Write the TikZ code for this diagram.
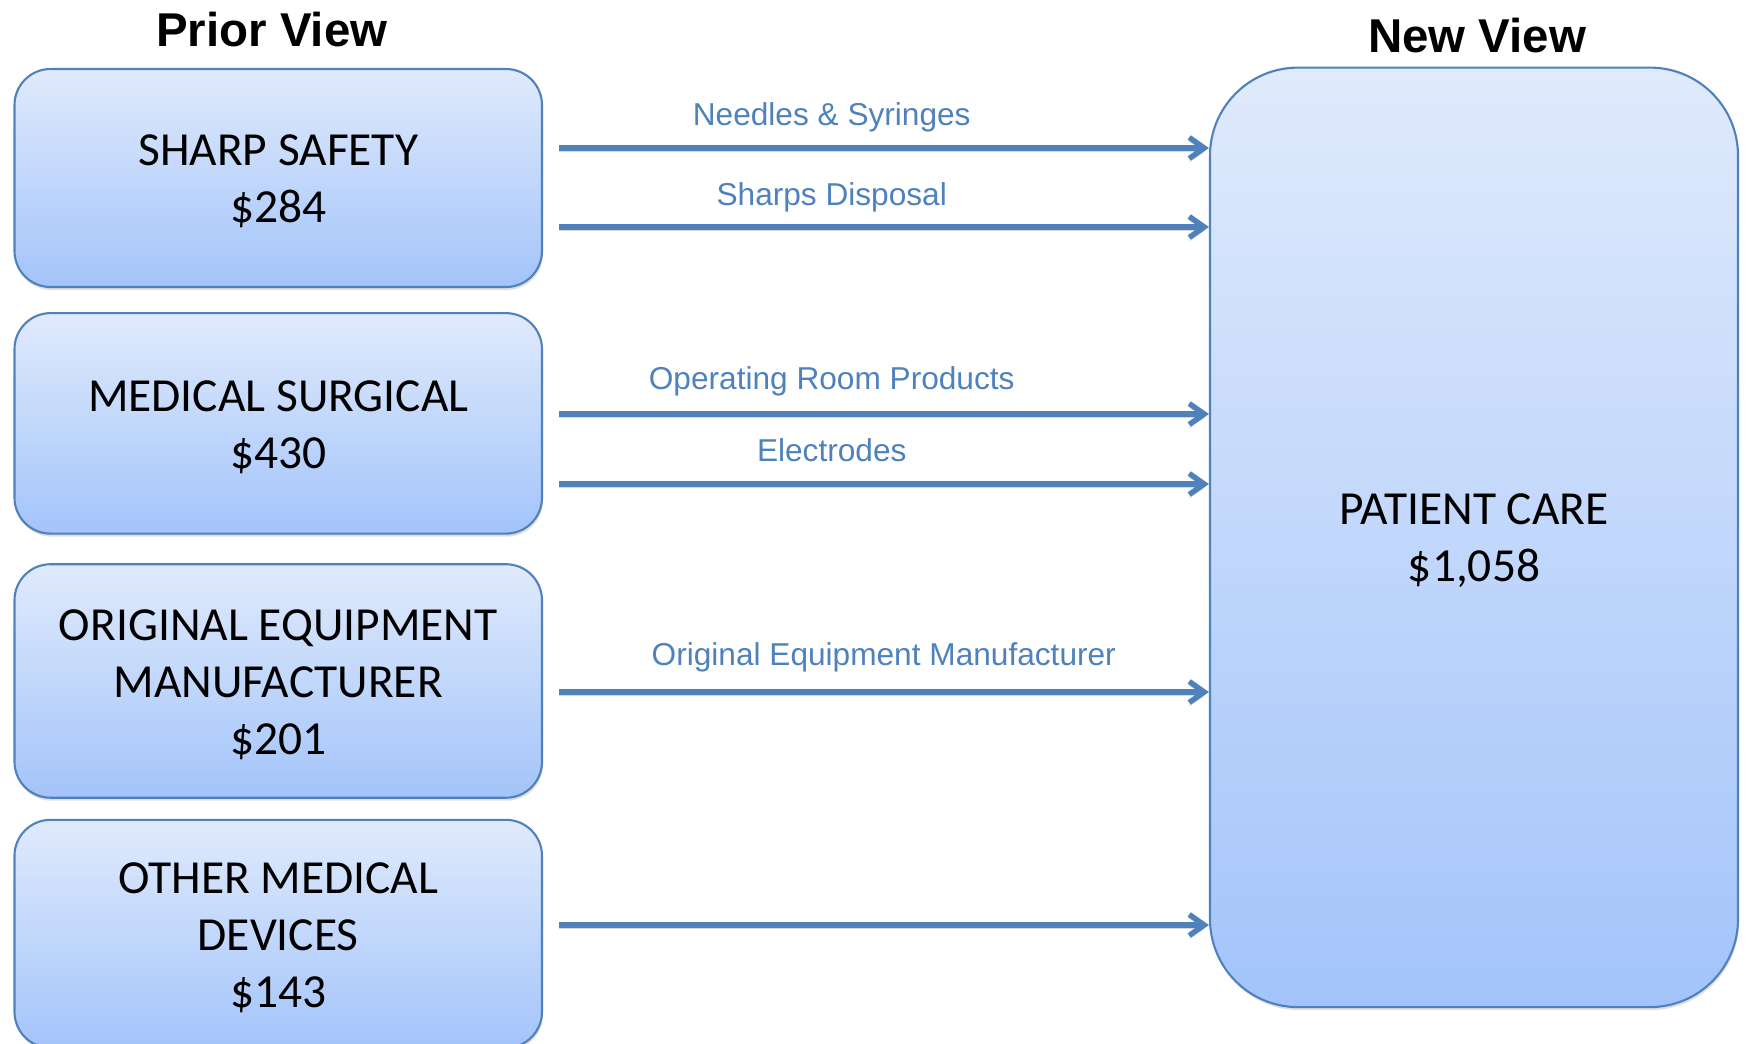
\documentclass[tikz,border=0pt]{standalone}
\usepackage{fontspec}
\setmainfont{Carlito}
\newfontfamily\arialfont{Liberation Sans}
\usetikzlibrary{arrows.meta,calc,positioning,shadows}

\definecolor{edgeblue}{RGB}{79,129,189}
\definecolor{fadetop}{RGB}{224,234,252}
\definecolor{fadebottom}{RGB}{163,196,250}
\newcommand{\padtop}{\rule{0pt}{21.5pt}}

\begin{document}
\begin{tikzpicture}[segment/.style={rectangle,rounded corners=0.72cm,draw=edgeblue,line width=1.2pt,top color=fadetop,bottom color=fadebottom,minimum width=10.55cm,align=center,font=\fontsize{27}{32.4}\selectfont,drop shadow={shadow xshift=0.02cm,shadow yshift=-0.06cm,opacity=0.25}},
  heading/.style={anchor=base,font=\arialfont\bfseries\fontsize{27}{32}\selectfont},
  flow/.style={draw=edgeblue,line width=3.1pt,-{Straight Barb[length=0.3cm,width=0.42cm]},preaction={draw=black,opacity=0.15,transform canvas={yshift=-0.07cm}}},
  flowlabel/.style={anchor=base,yshift=0.48cm,text=edgeblue,font=\arialfont\fontsize{18}{21}\selectfont}]

  \useasboundingbox (0,0) rectangle (34.92,-20.86);

  % prior view column
  \node(sharp)  [segment,minimum height=4.36cm] at (5.565,-3.56) {\padtop SHARP SAFETY\\\$284};
  \node(medsurg)[segment,minimum height=4.41cm,below=0.48cm of sharp]  {\padtop MEDICAL SURGICAL\\\$430};
  \node(oem)    [segment,minimum height=4.67cm,below=0.57cm of medsurg]{\padtop ORIGINAL EQUIPMENT\\MANUFACTURER\\\$201};
  \node(other)  [segment,minimum height=4.56cm,below=0.40cm of oem]    {\padtop OTHER MEDICAL\\DEVICES\\\$143};

  % new view
  \node(care)[segment,rounded corners=1.76cm,minimum width=10.56cm,minimum height=18.79cm] at (29.48,-10.747) {\padtop PATIENT CARE\\\$1,058};

  \node(prior)[heading] at ([xshift=-0.13cm,yshift=0.43cm]sharp.north) {Prior View};
  \node(new)  [heading] at ([xshift=0.06cm,yshift=0.29cm]care.north)   {New View};

  % arrow start points
  \coordinate(needles)   at ($(sharp.east |- 0,-2.96)+(0.31,0)$);
  \coordinate(disposal)  at ($(sharp.east |- 0,-4.54)+(0.31,0)$);
  \coordinate(oproom)    at ($(medsurg.east |- 0,-8.28)+(0.31,0)$);
  \coordinate(electrodes)at ($(medsurg.east |- 0,-9.68)+(0.31,0)$);
  \coordinate(equipment) at ($(oem.east |- 0,-13.84)+(0.31,0)$);
  \coordinate(devices)   at ($(other.east |- 0,-18.5)+(0.31,0)$);

  \draw[flow] (needles) -- (needles -| care.west) node[flowlabel,pos=0.42,yshift=-0.025cm]{Needles \& Syringes};
  \draw[flow] (disposal) -- (disposal -| care.west) node[flowlabel,pos=0.42,yshift=-0.05cm]{Sharps Disposal};
  \draw[flow] (oproom) -- (oproom -| care.west) node[flowlabel,pos=0.42,yshift=0.02cm]{Operating Room Products};
  \draw[flow] (electrodes) -- (electrodes -| care.west) node[flowlabel,pos=0.42,yshift=-0.03cm]{Electrodes};
  \draw[flow] (equipment) -- (equipment -| care.west) node[flowlabel,pos=0.5,yshift=0.06cm]{Original Equipment Manufacturer};
  \draw[flow] (devices) -- (devices -| care.west);
\end{tikzpicture}
\end{document}
